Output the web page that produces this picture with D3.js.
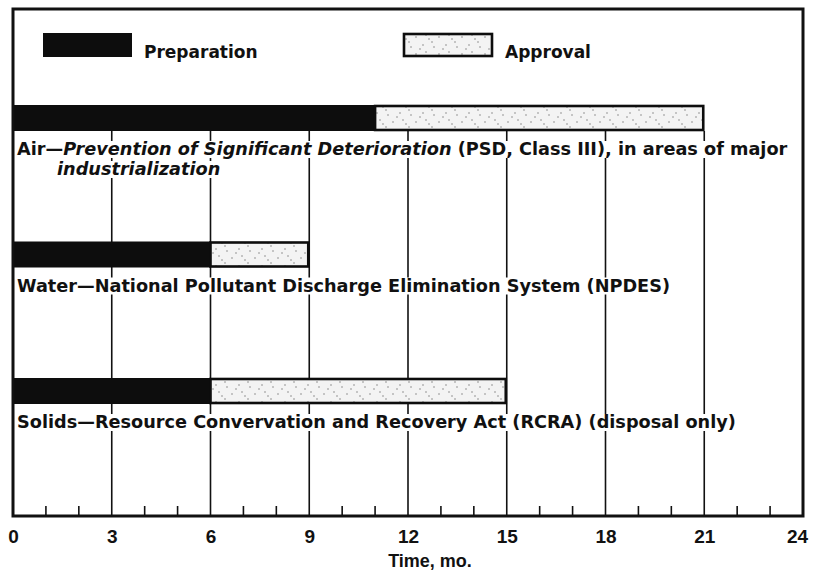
<!DOCTYPE html>
<html>
<head>
<meta charset="utf-8">
<script src="https://cdn.jsdelivr.net/npm/d3@7"></script>
<style>
  body { margin: 0; background: #fff; }
  text { font-family: "DejaVu Sans", sans-serif; font-weight: bold; fill: #111; }
  .axis text, .title { font-family: "Liberation Sans", Arial, sans-serif; }
</style>
</head>
<body>
<div id="chart"></div>
<script>
var categories = ["Air", "Water", "Solids"];
var preparation = [11, 6, 6];
var approval = [10, 3, 9];
var labelLines = [
  [[{t: "Air\u2014"}, {t: "Prevention of Significant Deterioration", i: true}, {t: " (PSD, Class III), in areas of major"}],
   [{t: "industrialization", i: true}]],
  [[{t: "Water\u2014National Pollutant Discharge Elimination System (NPDES)"}]],
  [[{t: "Solids\u2014Resource Convervation and Recovery Act (RCRA) (disposal only)"}]]
];
var majorTicks = [0, 3, 6, 9, 12, 15, 18, 21, 24];
var minorTicks = [1, 2, 4, 5, 7, 8, 10, 11, 13, 14, 16, 17, 19, 20, 22, 23];
var legendItems = ["Preparation", "Approval"];
var xTitle = "Time, mo.";

var width = 817, height = 578;
var frameTop = 9, axisY = 516, barH = 26;

var x = d3.scaleLinear().domain([0, 24]).range([13, 803]);
var y = d3.scalePoint().domain(categories).range([118, 391]);

var svg = d3.select("#chart").append("svg")
    .attr("width", width)
    .attr("height", height);

// stipple for the approval bars
var pat = svg.append("defs").append("pattern")
    .attr("id", "stipple")
    .attr("patternUnits", "userSpaceOnUse")
    .attr("width", 23).attr("height", 17);
pat.append("rect").attr("width", 23).attr("height", 17).attr("fill", "#f3f3f3");
[[2, 3], [9, 11], [15, 5], [20, 13], [6, 15], [12, 1], [18, 8]].forEach(function(p) {
  pat.append("circle").attr("cx", p[0]).attr("cy", p[1]).attr("r", 0.8).attr("fill", "#888");
});

var gridTop = y(categories[0]) + barH / 2;

svg.append("g")
    .selectAll("line")
    .data(majorTicks.slice(1, -1))
    .join("line")
    .attr("x1", function(d) { return x(d); })
    .attr("x2", function(d) { return x(d); })
    .attr("y1", gridTop)
    .attr("y2", axisY)
    .attr("stroke", "#111")
    .attr("stroke-width", 1.6);

svg.append("g")
    .selectAll("line")
    .data(minorTicks)
    .join("line")
    .attr("x1", function(d) { return x(d); })
    .attr("x2", function(d) { return x(d); })
    .attr("y1", axisY - 10)
    .attr("y2", axisY)
    .attr("stroke", "#111")
    .attr("stroke-width", 1.6);

// category labels, white boxes break the grid lines
var labels = svg.append("g");
categories.forEach(function(c, k) {
  labelLines[k].forEach(function(line, j) {
    var g = labels.append("g");
    var t = g.append("text")
        .attr("x", j === 0 ? 17 : 57)
        .attr("y", y(c) + barH / 2 + 24 + j * 20)
        .style("font-size", "17.7px");
    line.forEach(function(part) {
      t.append("tspan").text(part.t).style("font-style", part.i ? "italic" : "normal");
    });
    var b = t.node().getBBox();
    g.insert("rect", "text")
        .attr("x", b.x - 2).attr("y", b.y + 2)
        .attr("width", b.width + 4).attr("height", b.height - 3)
        .attr("fill", "#fff");
  });
});

var bars = svg.append("g");
bars.selectAll(".prep")
    .data(categories)
    .join("rect")
    .attr("class", "prep")
    .attr("x", x(0))
    .attr("y", function(d) { return y(d) - barH / 2; })
    .attr("width", function(d, i) { return x(preparation[i]) - x(0); })
    .attr("height", barH)
    .attr("fill", "#0d0d0d");

bars.selectAll(".appr")
    .data(categories)
    .join("rect")
    .attr("class", "appr")
    .attr("x", function(d, i) { return x(preparation[i]); })
    .attr("y", function(d) { return y(d) - barH / 2 + 1; })
    .attr("width", function(d, i) { return x(preparation[i] + approval[i]) - x(preparation[i]) - 1; })
    .attr("height", barH - 2)
    .attr("fill", "url(#stipple)")
    .attr("stroke", "#0d0d0d")
    .attr("stroke-width", 2.6);

// frame
svg.append("rect")
    .attr("x", x(0))
    .attr("y", frameTop)
    .attr("width", x(24) - x(0))
    .attr("height", axisY - frameTop)
    .attr("fill", "none")
    .attr("stroke", "#111")
    .attr("stroke-width", 3);

var xAxis = d3.axisBottom(x).tickValues(majorTicks).tickSize(0).tickPadding(0);
var ax = svg.append("g")
    .attr("class", "axis")
    .attr("transform", "translate(0," + axisY + ")")
    .call(xAxis);
ax.select(".domain").remove();
ax.selectAll("text")
    .attr("dy", null)
    .attr("y", 27)
    .attr("dx", function(d) { return d === 24 ? -6 : 0; })
    .style("font-weight", "bold")
    .style("font-size", "19px")
    .attr("fill", "#111");

svg.append("text")
    .attr("class", "title")
    .attr("x", 430)
    .attr("y", 567)
    .attr("text-anchor", "middle")
    .style("font-size", "18px")
    .text(xTitle);

// legend
var legend = svg.append("g");
var legendX = [43, 404];
legendItems.forEach(function(name, i) {
  legend.append("rect")
      .attr("x", legendX[i])
      .attr("y", i === 0 ? 33 : 34)
      .attr("width", i === 0 ? 89 : 88)
      .attr("height", i === 0 ? 24 : 22)
      .attr("fill", i === 0 ? "#0d0d0d" : "url(#stipple)")
      .attr("stroke", i === 0 ? "none" : "#0d0d0d")
      .attr("stroke-width", 2.6);
  legend.append("text")
      .attr("x", legendX[i] + 101)
      .attr("y", 58)
      .style("font-size", "17px")
      .text(name);
});
</script>
</body>
</html>
